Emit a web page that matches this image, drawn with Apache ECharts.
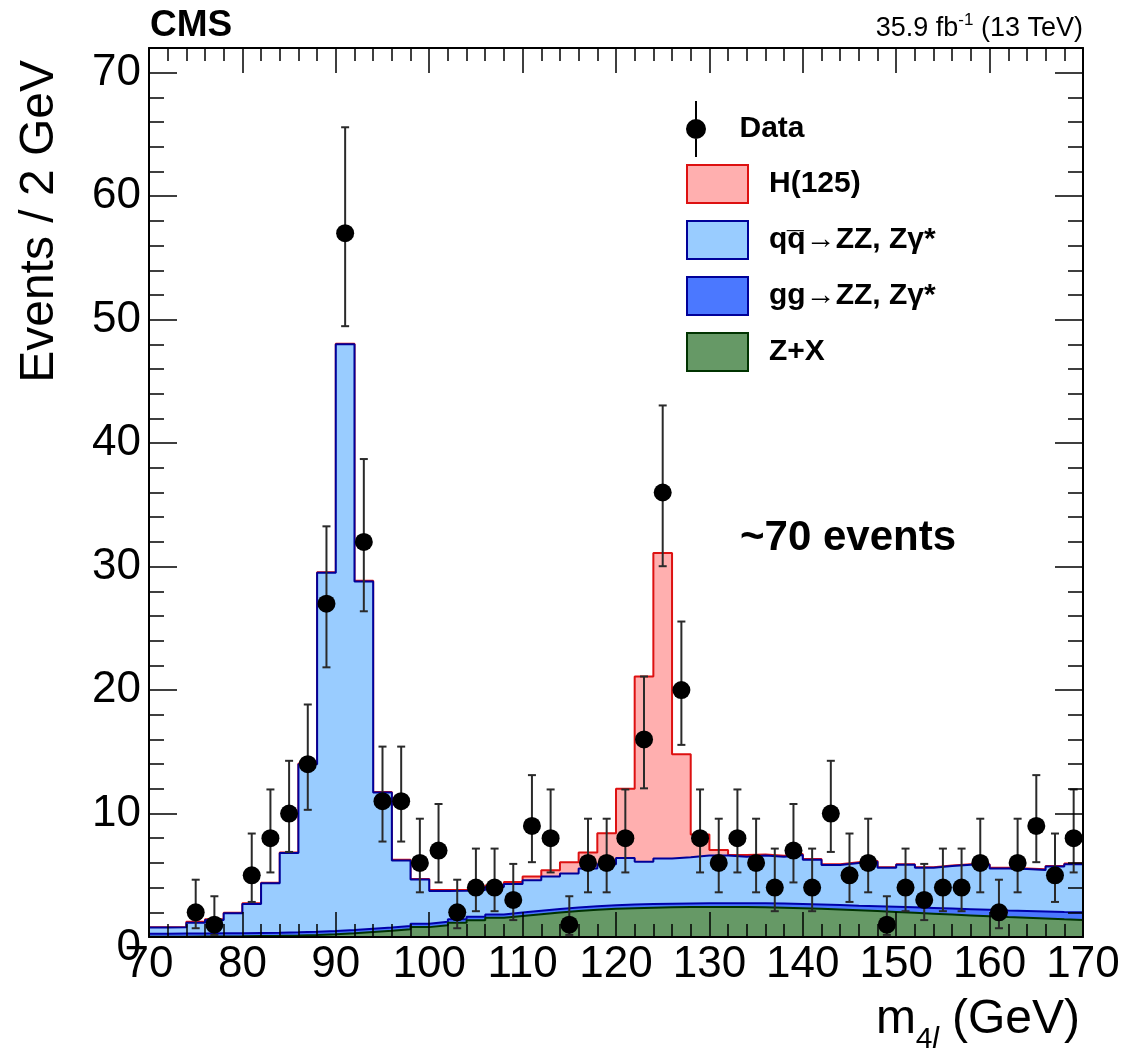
<!DOCTYPE html>
<html>
<head>
<meta charset="utf-8">
<title>CMS m4l</title>
<script src="https://cdn.jsdelivr.net/npm/echarts@6/dist/echarts.min.js"></script>
<style>
  html, body { margin: 0; padding: 0; background: #fff; }
  #chart { width: 1124px; height: 1054px; }
</style>
</head>
<body>
<div id="chart"></div>
<script>
// bins: 2 GeV, low edges
const binLow = [70,72,74,76,78,80,82,84,86,88,
  90,92,94,96,98,100,102,104,106,108,
  110,112,114,116,118,120,122,124,126,128,
  130,132,134,136,138,140,142,144,146,148,
  150,152,154,156,158,160,162,164,166,168];
const binEnd = 170;

// backgrounds + signal per bin
const zxBkg = [0.02,0.03,0.04,0.05,0.06,0.08,0.10,0.13,0.17,0.22,
  0.30,0.40,0.50,0.62,0.80,0.95,1.15,1.35,1.55,1.70,
  1.85,1.98,2.10,2.20,2.28,2.33,2.37,2.40,2.42,2.43,
  2.43,2.42,2.40,2.37,2.33,2.28,2.22,2.16,2.10,2.03,
  1.96,1.89,1.82,1.75,1.68,1.61,1.55,1.49,1.43,1.38];
const ggZZ = [0.25,0.25,0.25,0.25,0.25,0.25,0.25,0.25,0.25,0.26,
  0.27,0.27,0.27,0.28,0.28,0.28,0.28,0.28,0.28,0.28,
  0.28,0.29,0.29,0.29,0.30,0.30,0.30,0.30,0.30,0.31,
  0.31,0.32,0.33,0.34,0.35,0.36,0.37,0.38,0.40,0.42,
  0.44,0.46,0.48,0.50,0.52,0.54,0.56,0.58,0.60,0.62];
const qqZZ = [0.49,0.50,0.87,1.08,1.61,2.35,4.00,6.42,13.58,29.02,
  47.43,28.13,10.93,5.30,3.57,2.50,2.32,2.17,2.22,2.32,
  2.47,2.63,2.76,3.06,3.32,3.77,3.43,3.65,3.73,3.86,
  3.86,3.76,3.87,3.79,3.97,3.61,3.25,3.46,3.60,3.15,
  3.45,3.25,3.45,3.60,3.65,3.40,3.39,3.36,3.67,3.90];
const higgs = [0.03,0.03,0.08,0.06,0.05,0.05,0.05,0.05,0.05,0.05,
  0.05,0.05,0.05,0.05,0.05,0.07,0.08,0.12,0.12,0.15,
  0.30,0.50,0.90,1.30,2.50,5.60,15.0,24.75,8.35,1.70,
  0.45,0.15,0.08,0.08,0.07,0.07,0.06,0.06,0.06,0.05,
  0.05,0.05,0.05,0.05,0.05,0.05,0.05,0.05,0.05,0.05];

// data points (bin centres) with asymmetric errors
const dataMass = [75,77,81,83,85,87,89,91,93,95,97,99,101,103,105,107,109,111,113,115,
  117,119,121,123,125,127,129,131,133,135,137,139,141,143,145,147,149,151,153,155,
  157,159,161,163,165,167,169];
const dataCount = [2,1,5,8,10,14,27,57,32,11,11,6,7,2,4,4,3,9,8,1,
  6,6,8,16,36,20,8,6,8,6,4,7,4,10,5,6,1,4,3,4,
  4,6,2,6,9,5,8];
const errDown = [1.29,0.83,2.16,2.77,3.11,3.70,5.16,7.53,5.62,3.27,3.27,2.38,2.58,1.29,1.91,1.91,1.63,2.94,2.77,0.83,
  2.38,2.38,2.77,3.96,5.97,4.44,2.77,2.38,2.77,2.38,1.91,2.58,1.91,3.11,2.16,2.38,0.83,1.91,1.63,1.91,
  1.91,2.38,1.29,2.38,2.94,2.16,2.77];
const errUp = [2.64,2.30,3.38,3.95,4.27,4.83,6.26,8.58,6.71,4.42,4.42,3.58,3.77,2.64,3.16,3.16,2.92,4.11,3.95,2.30,
  3.58,3.58,3.95,5.10,7.05,5.55,3.95,3.58,3.95,3.58,3.16,3.77,3.16,4.27,3.38,3.58,2.30,3.16,2.92,3.16,
  3.16,3.58,2.64,3.58,4.11,3.38,3.95];

const xTicks = { min: 70, max: 170, interval: 10 };
const yTicks = { min: 0, max: 72, major: 10, minor: 2 };

const FONT = "'Liberation Sans', Arial, Helvetica, sans-serif";

const chart = echarts.init(document.getElementById('chart'));

// cumulative stack tops (Z+X at the bottom)
const topZX = zxBkg.slice();
const topGG = topZX.map((v, i) => v + ggZZ[i]);
const topQQ = topGG.map((v, i) => v + qqZZ[i]);
const topH = topQQ.map((v, i) => v + higgs[i]);

function steps(vals) {
  const pts = binLow.map((x, i) => [x, vals[i]]);
  pts.push([binEnd, vals[vals.length - 1]]);
  return pts;
}

function histSeries(name, tops, fill, line, z) {
  return {
    name: name, type: 'line', step: 'end',
    data: steps(tops), symbol: 'none', silent: true,
    lineStyle: { color: line, width: 2 },
    areaStyle: { color: fill, opacity: 1 },
    itemStyle: { color: fill },
    z: z
  };
}

const errData = dataMass.map((m, i) => [m, dataCount[i] - errDown[i], dataCount[i] + errUp[i]]);

function renderErr(params, api) {
  const x = api.value(0);
  const lo = api.coord([x, api.value(1)]);
  const hi = api.coord([x, api.value(2)]);
  const cap = 4;
  const st = { stroke: '#2a2a2a', lineWidth: 2 };
  return {
    type: 'group',
    children: [
      { type: 'line', shape: { x1: hi[0], y1: hi[1], x2: lo[0], y2: lo[1] }, style: st },
      { type: 'line', shape: { x1: hi[0] - cap, y1: hi[1], x2: hi[0] + cap, y2: hi[1] }, style: st },
      { type: 'line', shape: { x1: lo[0] - cap, y1: lo[1], x2: lo[0] + cap, y2: lo[1] }, style: st }
    ]
  };
}

const axisLine = { show: true, onZero: false, lineStyle: { color: '#000', width: 2 } };
const tickStyle = { color: '#000', width: 1.5 };

function xAxisDef(pos, labels) {
  return {
    type: 'value', position: pos, min: xTicks.min, max: xTicks.max, interval: xTicks.interval,
    axisLine: axisLine, splitLine: { show: false }, z: 10,
    axisTick: { inside: true, length: 25, lineStyle: tickStyle },
    minorTick: { show: true, splitNumber: 5, length: 13, lineStyle: tickStyle },
    axisLabel: labels ? { show: true, margin: 6, color: '#000', fontSize: 44, fontFamily: FONT } : { show: false }
  };
}

function yAxisDef(pos, major, labels) {
  return {
    type: 'value', position: pos, min: yTicks.min, max: yTicks.max,
    interval: major ? yTicks.major : yTicks.minor,
    axisLine: major ? axisLine : { show: false }, splitLine: { show: false }, z: 10,
    axisTick: { inside: true, length: major ? 28 : 15, lineStyle: tickStyle },
    axisLabel: labels ? {
      show: true, margin: 8, color: '#000', fontSize: 44, fontFamily: FONT, showMaxLabel: false,
      formatter: v => v === 0 ? '{z|0}' : String(v),
      rich: { z: { fontSize: 44, fontFamily: FONT, color: '#000', padding: [22, 0, 0, 0] } }
    } : { show: false }
  };
}

const legendText = { fontFamily: FONT, fontWeight: 'bold', fontSize: 30, color: '#000' };

const option = {
  animation: false,
  backgroundColor: '#fff',
  grid: { left: 149, right: 41, top: 48, bottom: 117, outerBoundsMode: 'none' },
  title: [
    { text: 'CMS', left: 150, top: 7, padding: 0,
      textStyle: { fontFamily: FONT, fontWeight: 'bold', fontSize: 37, color: '#000' } },
    { text: '{a|35.9 fb}{s|-1}{a| (13 TeV)}', right: 41, top: 12, padding: 0,
      textStyle: { fontWeight: 'normal', rich: {
        a: { fontFamily: FONT, fontWeight: 'normal', fontSize: 27, lineHeight: 34, color: '#000' },
        s: { fontFamily: FONT, fontWeight: 'normal', fontSize: 17, lineHeight: 30, verticalAlign: 'top', color: '#000' }
      } } }
  ],
  legend: [
    { orient: 'vertical', left: 686, top: 100, padding: 0, selectedMode: false,
      itemWidth: 61, itemHeight: 56,
      textStyle: Object.assign({ padding: [0, 0, 0, 8] }, legendText),
      data: [{ name: 'Data', icon: 'path://M9,0 L9,56 M0,28 A9,9 0 1,0 18,28 A9,9 0 1,0 0,28 Z',
        itemStyle: { color: '#000', borderColor: '#000', borderWidth: 2 } }] },
    { orient: 'vertical', left: 686, top: 164, padding: 0, selectedMode: false,
      itemWidth: 61, itemHeight: 38, itemGap: 16,
      textStyle: Object.assign({ padding: [0, 0, 0, 16] }, legendText),
      data: [
        { name: 'H(125)', icon: 'rect', itemStyle: { color: '#ffafaf', borderColor: '#dd1111', borderWidth: 2 } },
        { name: 'q\u0071\u0305\u2192ZZ, Z\u03b3*', icon: 'rect', itemStyle: { color: '#99ccff', borderColor: '#000099', borderWidth: 2 } },
        { name: 'gg\u2192ZZ, Z\u03b3*', icon: 'rect', itemStyle: { color: '#4b78ff', borderColor: '#000099', borderWidth: 2 } },
        { name: 'Z+X', icon: 'rect', itemStyle: { color: '#669966', borderColor: '#003300', borderWidth: 2 } }
      ] }
  ],
  xAxis: [xAxisDef('bottom', true), xAxisDef('top', false)],
  yAxis: [
    yAxisDef('left', true, true), yAxisDef('left', false, false),
    yAxisDef('right', true, false), yAxisDef('right', false, false)
  ],
  series: [
    histSeries('H(125)', topH, '#ffafaf', '#dd1111', 1),
    histSeries('q\u0071\u0305\u2192ZZ, Z\u03b3*', topQQ, '#99ccff', '#000099', 2),
    histSeries('gg\u2192ZZ, Z\u03b3*', topGG, '#4b78ff', '#0000aa', 3),
    histSeries('Z+X', topZX, '#669966', '#003300', 4),
    {
      name: 'Data err', type: 'custom', renderItem: renderErr, data: errData,
      encode: { x: 0, y: [1, 2] }, silent: true, z: 6
    },
    {
      name: 'Data', type: 'scatter', symbol: 'circle', symbolSize: 18,
      data: dataMass.map((m, i) => [m, dataCount[i]]),
      itemStyle: { color: '#000', opacity: 1 }, silent: true, z: 7
    }
  ],
  graphic: [
    { type: 'text', x: 40, y: 60, rotation: Math.PI / 2,
      style: { text: 'Events / 2 GeV', font: '48px ' + FONT, fill: '#000', align: 'right', verticalAlign: 'middle' } },
    { type: 'text', x: 1080, y: 1020,
      style: { text: ' (GeV)', font: '48px ' + FONT, fill: '#000', align: 'right', verticalAlign: 'middle' } },
    { type: 'text', x: 939, y: 1040,
      style: { text: '{n|4}{i|l}', align: 'right', verticalAlign: 'middle',
        rich: { n: { fontSize: 30, fontFamily: FONT, fill: '#000' },
                i: { fontSize: 30, fontFamily: FONT, fontStyle: 'italic', fill: '#000' } } } },
    { type: 'text', x: 916, y: 1020,
      style: { text: 'm', font: '48px ' + FONT, fill: '#000', align: 'right', verticalAlign: 'middle' } },
    { type: 'text', x: 740, y: 538,
      style: { text: '~70 events', font: 'bold 42px ' + FONT, fill: '#000', align: 'left', verticalAlign: 'middle' } }
  ]
};

chart.setOption(option);
</script>
</body>
</html>
